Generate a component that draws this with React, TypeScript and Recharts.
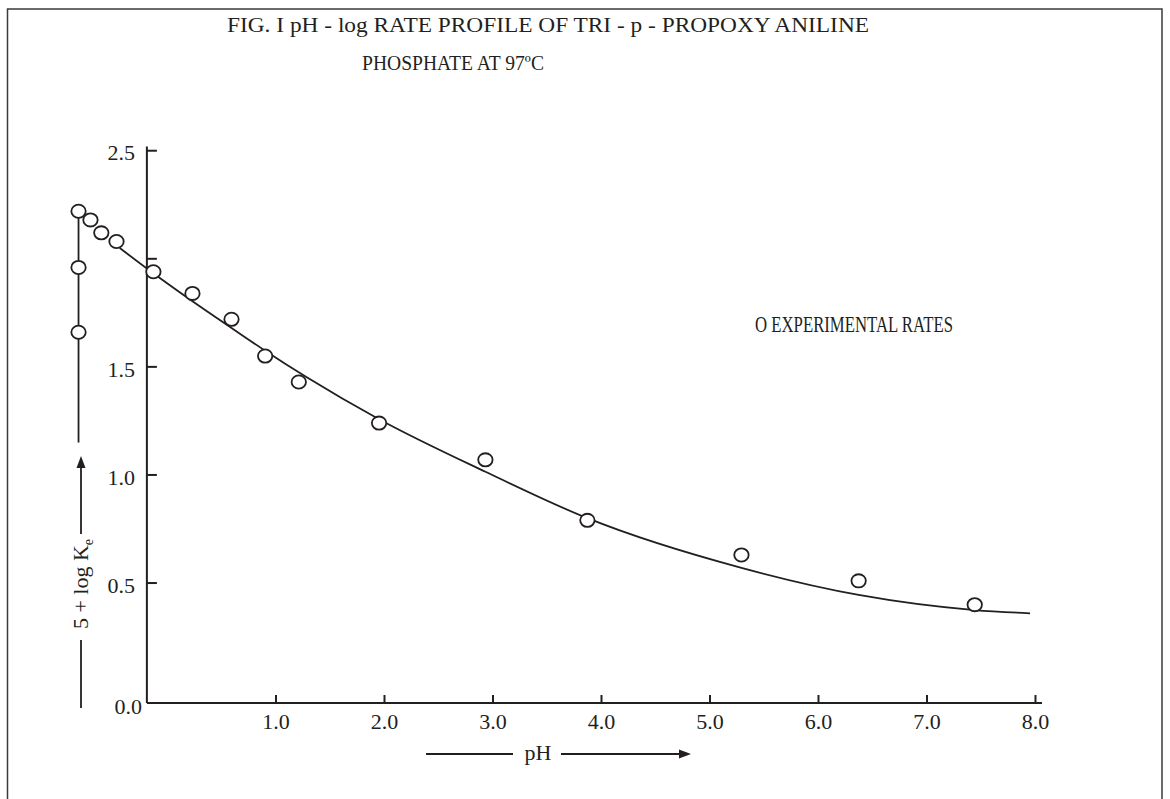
import React from 'react';
import { ComposedChart, Line, Scatter, XAxis, YAxis, ReferenceLine } from 'recharts';

// experimental points (pH, 5 + log Ke)
const pointPh = [-0.82, -0.82, -0.82, -0.71, -0.61, -0.47, -0.13, 0.23, 0.59, 0.9, 1.21, 1.95, 2.93, 3.87, 5.29, 6.37, 7.44];
const pointRate = [2.22, 1.96, 1.66, 2.18, 2.12, 2.08, 1.94, 1.84, 1.72, 1.55, 1.43, 1.24, 1.07, 0.79, 0.63, 0.51, 0.4];

// drawn profile curve
const curvePh = [-0.44, -0.19, 0.24, 0.59, 0.9, 1.28, 1.95, 2.93, 3.87, 5.29, 6.37, 7.44, 7.95];
const curveRate = [2.05, 1.955, 1.8, 1.68, 1.575, 1.453, 1.258, 1.015, 0.8, 0.57, 0.445, 0.375, 0.36];

// vertical drop through the low-pH points
const dropPh = -0.82;
const dropRate = [2.22, 1.15];

const xTicks = [1, 2, 3, 4, 5, 6, 7, 8];
const yTicks = [0, 0.5, 1, 1.5, 2, 2.5];

const X_MIN = -1;
const X_MAX = 8.06;
const Y_MIN = -0.055;
const Y_MAX = 2.52;
const AXIS_PH = -0.19;

const W = 1170;
const H = 799;
const MARGIN = { top: 146.4, right: 128, bottom: 95, left: 58 };
const AXIS_W = 1;
const PLOT_LEFT = MARGIN.left + AXIS_W;
const PLOT_W = W - PLOT_LEFT - MARGIN.right;
const PLOT_BOTTOM = H - MARGIN.bottom - AXIS_W;
const AXIS_X = PLOT_LEFT + ((AXIS_PH - X_MIN) / (X_MAX - X_MIN)) * PLOT_W;

const INK = '#231f20';
const FONT = '"Liberation Serif", "Times New Roman", Times, serif';
const TXT = { fontFamily: FONT };

const points = pointPh.map((ph, i) => ({ ph, rate: pointRate[i] }));
const curve = curvePh.map((ph, i) => ({ ph, rate: curveRate[i] }));

function YTick(props: any) {
  const { y, payload } = props;
  const v = payload.value as number;
  if (v === 0) {
    return (
      <text x={AXIS_X - 5} y={y + 15} dy="0.35em" textAnchor="end" fontSize={22} style={TXT} fill={INK}>
        0.0
      </text>
    );
  }
  return (
    <g>
      <line x1={AXIS_X} x2={AXIS_X + 10} y1={y} y2={y} stroke={INK} strokeWidth={2} />
      {v !== 2 && (
        <text x={AXIS_X - 12} y={y + 2} dy="0.35em" textAnchor="end" fontSize={22} style={TXT} fill={INK}>
          {v.toFixed(1)}
        </text>
      )}
    </g>
  );
}

function XTick(props: any) {
  const { x, payload } = props;
  return (
    <g>
      <line x1={x} x2={x} y1={PLOT_BOTTOM} y2={PLOT_BOTTOM - 8} stroke={INK} strokeWidth={2} />
      <text x={x} y={PLOT_BOTTOM + 26} textAnchor="middle" fontSize={22} style={TXT} fill={INK}>
        {(payload.value as number).toFixed(1)}
      </text>
    </g>
  );
}

const Ring = (props: any) => (
  <ellipse cx={props.cx} cy={props.cy} rx={7.2} ry={6.6} fill="#fff" stroke={INK} strokeWidth={1.8} />
);

export default function App() {
  return (
    <div style={{ position: 'absolute', left: 0, top: 0, width: W, height: H, background: '#fff' }}>
      <ComposedChart width={W} height={H} margin={MARGIN}>
        <XAxis
          type="number"
          dataKey="ph"
          domain={[X_MIN, X_MAX]}
          ticks={xTicks}
          interval={0}
          axisLine={false}
          tickLine={false}
          tick={XTick}
          height={AXIS_W}
        />
        <YAxis
          type="number"
          domain={[Y_MIN, Y_MAX]}
          ticks={yTicks}
          interval={0}
          axisLine={false}
          tickLine={false}
          tick={YTick}
          width={AXIS_W}
        />
        <ReferenceLine
          segment={[{ x: AXIS_PH, y: Y_MIN }, { x: AXIS_PH, y: Y_MAX }]}
          stroke={INK}
          strokeWidth={2}
          ifOverflow="visible"
        />
        <ReferenceLine
          segment={[{ x: AXIS_PH, y: Y_MIN }, { x: X_MAX, y: Y_MIN }]}
          stroke={INK}
          strokeWidth={2}
          ifOverflow="visible"
        />
        <ReferenceLine
          segment={[{ x: dropPh, y: dropRate[0] }, { x: dropPh, y: dropRate[1] }]}
          stroke={INK}
          strokeWidth={1.8}
          ifOverflow="visible"
        />
        <Line
          data={curve}
          dataKey="rate"
          type="monotone"
          stroke={INK}
          strokeWidth={1.8}
          dot={false}
          isAnimationActive={false}
        />
        <Scatter data={points} dataKey="rate" shape={<Ring />} isAnimationActive={false} />
      </ComposedChart>

      <svg
        width={W}
        height={H}
        style={{ position: 'absolute', left: 0, top: 0, pointerEvents: 'none', fontFamily: FONT }}
        fill={INK}
      >
        {/* frame */}
        <polyline points={`7.5,${H} 7.5,9 1162,9 1162,${H}`} fill="none" stroke="#3a3a3a" strokeWidth={1.5} />

        {/* title */}
        <text x={227} y={32} fontSize={22} textLength={642} lengthAdjust="spacingAndGlyphs">
          FIG. I  pH - log RATE PROFILE OF TRI - p - PROPOXY ANILINE
        </text>
        <text x={362} y={70} fontSize={22} textLength={182} lengthAdjust="spacingAndGlyphs">
          PHOSPHATE AT 97ºC
        </text>

        {/* legend */}
        <text x={755} y={332} fontSize={23} textLength={198} lengthAdjust="spacingAndGlyphs">
          O EXPERIMENTAL RATES
        </text>

        {/* y axis title */}
        <text x={88} y={584} fontSize={22} textAnchor="middle" transform="rotate(-90 88 584)">
          5 + log K<tspan fontSize={14} dy={5}>e</tspan>
        </text>
        <line x1={81} x2={81} y1={534} y2={466} stroke={INK} strokeWidth={1.8} />
        <polygon points="81,456 76.5,468 85.5,468" />
        <line x1={81} x2={81} y1={640} y2={708} stroke={INK} strokeWidth={1.8} />

        {/* x axis title */}
        <line x1={426} x2={513} y1={754} y2={754} stroke={INK} strokeWidth={1.8} />
        <text x={538} y={760} fontSize={22} textAnchor="middle">pH</text>
        <line x1={561} x2={681} y1={754} y2={754} stroke={INK} strokeWidth={1.8} />
        <polygon points="691,754 679,749.5 679,758.5" />
      </svg>
    </div>
  );
}
